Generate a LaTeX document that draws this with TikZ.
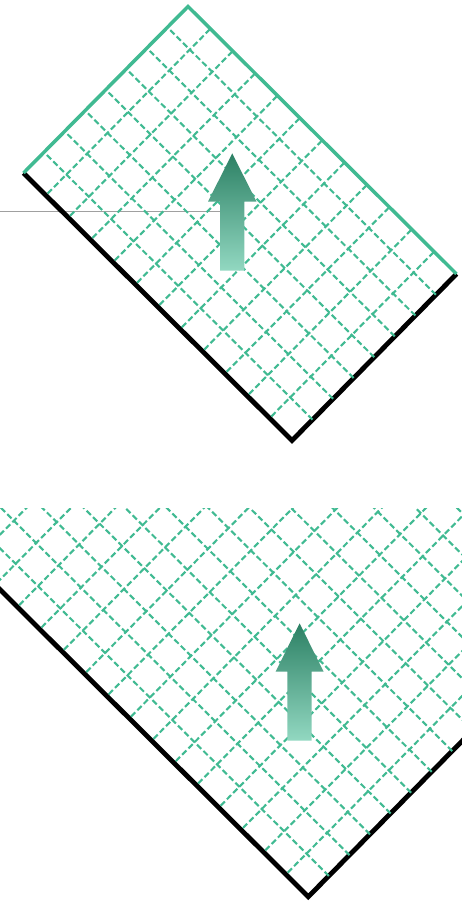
\documentclass[tikz,border=0pt]{standalone}
\definecolor{gridgreen}{RGB}{64,186,146}
\definecolor{arrowtop}{RGB}{44,128,100}
\definecolor{arrowmid}{RGB}{70,188,149}
\definecolor{arrowbot}{RGB}{146,216,193}
\definecolor{leadergray}{RGB}{160,160,160}
\begin{document}
\begin{tikzpicture}[x=1pt,y=-1pt,
  gridline/.style={draw=gridgreen,line width=2.1pt,dash pattern=on 6pt off 3pt},
  greenedge/.style={draw=gridgreen,line width=3.5pt},
  blackedge/.style={draw=black,line width=4.8pt},
  leader/.style={draw=leadergray,line width=1.3pt},
  arrowfill/.style={top color=arrowtop,middle color=arrowmid,bottom color=arrowbot},
  plate/.style={shift={#1},x={(22.375pt,-22.29pt)},y={(-20.5625pt,-20.8125pt)}}]
\useasboundingbox (0,0) rectangle (462,902);

% leader line to the upper arrow
\coordinate (leadStart) at (0,211.7);
\coordinate (leadEnd) at (220.1,211.7);
\draw[leader] (leadStart) -- (leadEnd);

% ---------- upper plate ----------
\begin{scope}[plate={(188pt,-6.5pt)}]
  \coordinate (uTop) at (0,0);
  \coordinate (uRight) at (12,0);
  \coordinate (uLeft) at (0,8);
  \coordinate (uBottom) at (12,8);
  \draw[blackedge] (uLeft) -- (uBottom) -- (uRight);
  \draw[greenedge] (uLeft) -- (uTop) -- (uRight);
  \foreach \j in {1,...,7} \draw[gridline] (12,\j) -- (0,\j);
  \foreach \i in {1,...,11} \draw[gridline,dash phase=6.5pt] (\i,8) -- (\i,0);
\end{scope}

% ---------- lower plate ----------
\begin{scope}
  \clip (0,508) rectangle (462,902);
  \begin{scope}[plate={(308.3pt,-896.7pt)}]
    \coordinate (lBottom) at (0,0);
    \coordinate (lLeft) at (-16,0);
    \coordinate (lRight) at (0,-16);
    \draw[blackedge] (lLeft) -- (lBottom) -- (lRight);
    \foreach \j in {1,...,20} \draw[gridline] (0,-\j) -- (-20,-\j);
    \foreach \i in {1,...,20} \draw[gridline,dash phase=6.5pt] (-\i,0) -- (-\i,-20);
  \end{scope}
\end{scope}

% ---------- arrows ----------
\shade[arrowfill] (232.25,153.3) -- (256.5,201.7) -- (244.4,201.7) -- (244.4,270.7)
  -- (220.1,270.7) -- (220.1,201.7) -- (208,201.7) -- cycle;
\shade[arrowfill] (299.6,623.3) -- (323.6,671.7) -- (311.7,671.7) -- (311.7,740.7)
  -- (287.4,740.7) -- (287.4,671.7) -- (275.6,671.7) -- cycle;
\end{tikzpicture}
\end{document}
